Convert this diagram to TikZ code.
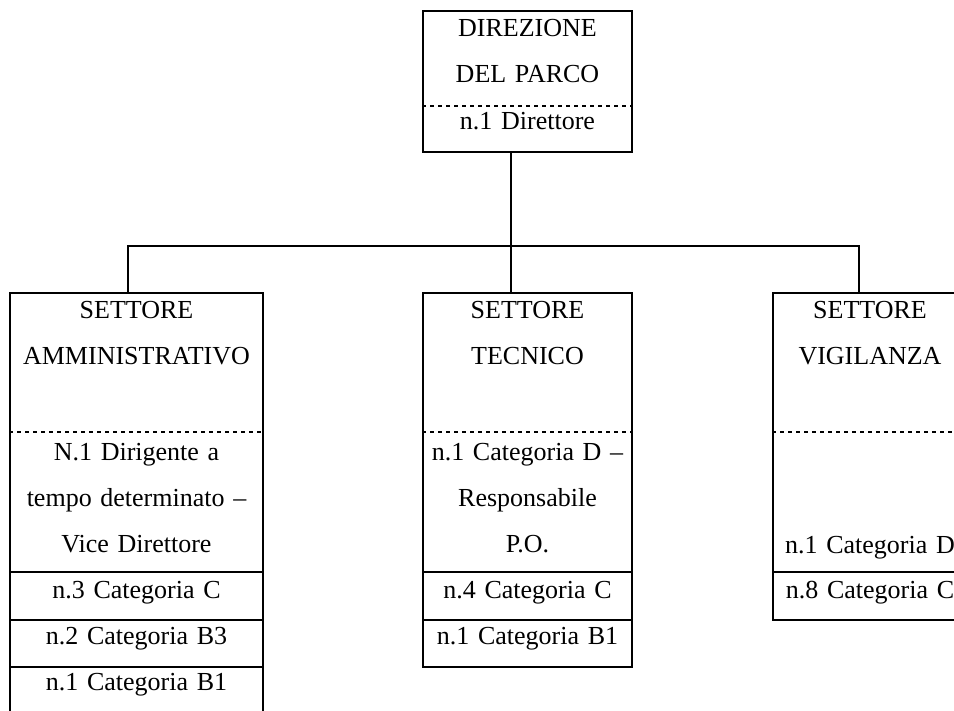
\documentclass[tikz,border=0pt]{standalone}
\usepackage{fontspec}
\setmainfont{Liberation Serif}
\usetikzlibrary{fit}
\begin{document}
\begin{tikzpicture}[x=0.75pt, y=-0.75pt, line width=1.3pt,
    unitbox/.style={draw, rectangle, inner sep=0pt},
    cell/.style={anchor=base, inner sep=0pt, text width=225pt, align=center,
      font=\fontsize{19.5}{34.5}\selectfont},
    sepdash/.style={dash pattern=on 3pt off 3pt}]
  \useasboundingbox (0,0) rectangle (954,711);
  \clip (0,0) rectangle (954,711);
  % boxes
  \node[unitbox, fit={(423,11) (632,152)}] (dir) {};
  \node[unitbox, fit={(10,293) (263,716)}] (amm) {};
  \node[unitbox, fit={(423,293) (632,667)}] (tec) {};
  \node[unitbox, fit={(773,293) (967,620)}] (vig) {};
  % row separators
  \draw[sepdash] (dir.west |- 0,106) -- (dir.east |- 0,106);
  \foreach \u in {amm,tec,vig}
    \draw[sepdash] (\u.west |- 0,432) -- (\u.east |- 0,432);
  \foreach \u in {amm,tec,vig}
    \draw (\u.west |- 0,572) -- (\u.east |- 0,572);
  \foreach \u in {amm,tec}
    \draw (\u.west |- 0,620) -- (\u.east |- 0,620);
  \draw (amm.west |- 0,667) -- (amm.east |- 0,667);
  % texts
  \node[cell] (dirT) at (527.5,36) {DIREZIONE\\DEL PARCO};
  \node[cell] (dirP) at (527.5,129) {n.1 Direttore};
  \node[cell] (ammT) at (136.5,318) {SETTORE\\AMMINISTRATIVO};
  \node[cell] (ammP) at (136.5,460) {N.1 Dirigente a\\tempo determinato --\\Vice Direttore};
  \node[cell] (ammC) at (136.5,598) {n.3 Categoria C};
  \node[cell] (ammB) at (136.5,644) {n.2 Categoria B3};
  \node[cell] (ammA) at (136.5,690) {n.1 Categoria B1};
  \node[cell] (tecT) at (527.5,318) {SETTORE\\TECNICO};
  \node[cell] (tecP) at (527.5,460) {n.1 Categoria D --\\Responsabile\\P.O.};
  \node[cell] (tecC) at (527.5,598) {n.4 Categoria C};
  \node[cell] (tecB) at (527.5,644) {n.1 Categoria B1};
  \node[cell] (vigT) at (870,318) {SETTORE\\VIGILANZA};
  \node[cell] (vigP) at (870,553) {n.1 Categoria D};
  \node[cell] (vigC) at (870,598) {n.8 Categoria C};
  % connectors
  \coordinate (hub) at (511,246);
  \coordinate (busL) at (128,246);
  \coordinate (busR) at (859,246);
  \draw (hub |- dir.south) -- (hub |- tec.north);
  \draw (busL |- amm.north) -- (busL) -- (busR) -- (busR |- vig.north);
\end{tikzpicture}
\end{document}
